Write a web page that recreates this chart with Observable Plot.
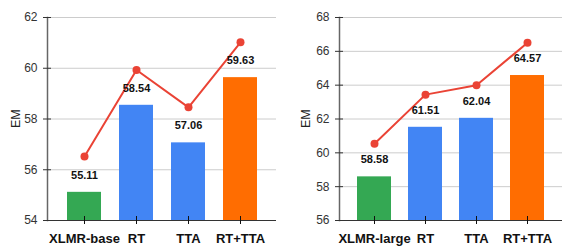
<!DOCTYPE html>
<html>
<head>
<meta charset="utf-8">
<script src="https://cdn.jsdelivr.net/npm/d3@7"></script>
<script src="https://cdn.jsdelivr.net/npm/@observablehq/plot@0.6"></script>
<style>
  html, body { margin: 0; padding: 0; background: #fff; }
  #wrap { display: flex; width: 563px; height: 246px; }
  svg { display: block; }
</style>
</head>
<body>
<div id="wrap"></div>
<script>
const categoriesBase = ["XLMR-base", "RT", "TTA", "RT+TTA"];
const emBase = [55.11, 58.54, 57.06, 59.63];
const lineBase = [56.52, 59.93, 58.46, 61.02];
const yTicksBase = [54, 56, 58, 60, 62];

const categoriesLarge = ["XLMR-large", "RT", "TTA", "RT+TTA"];
const emLarge = [58.58, 61.51, 62.04, 64.57];
const lineLarge = [60.54, 63.44, 63.99, 66.51];
const yTicksLarge = [56, 58, 60, 62, 64, 66, 68];

const barColors = ["#34a853", "#4285f4", "#4285f4", "#ff6d01"];
const lineColor = "#ea4335";
const yLabel = "EM";

function panel(cats, bars, line, ticks, opts) {
  const rows = cats.map((c, i) => ({cat: c, v: bars[i], l: line[i], color: barColors[i]}));
  return Plot.plot({
    width: opts.width,
    height: 246,
    marginLeft: opts.marginLeft,
    marginRight: opts.marginRight,
    marginTop: 17,
    marginBottom: 26,
    style: {fontFamily: "'Liberation Sans', Arial, sans-serif", background: "#fff", overflow: "visible"},
    x: {domain: cats, paddingInner: opts.pi, paddingOuter: opts.po, label: null},
    y: {domain: [ticks[0], ticks[ticks.length - 1]], label: null},
    marks: [
      Plot.gridY(ticks, {stroke: "#cccccc", strokeOpacity: 1}),
      Plot.barY(rows, {x: "cat", y1: ticks[0], y2: "v", fill: "color"}),
      Plot.ruleY([ticks[0]], {stroke: "#333"}),
      Plot.frame({anchor: "left", stroke: "#666", strokeWidth: 1.5}),
      Plot.axisY({ticks, tickSize: 8, dx: 4, tickPadding: 6, fontSize: 12, color: "#333", label: null}),
      Plot.text([yLabel], {frameAnchor: "left", rotate: -90, dx: opts.labelDx, dy: 9, fontSize: 12.5, fill: "#222"}),
      Plot.axisX({tickSize: 8, dy: -4, tickPadding: 9, fontSize: 13, fontWeight: "bold", color: "#111", label: null}),
      Plot.line(rows, {x: "cat", y: "l", stroke: lineColor, strokeWidth: 2}),
      Plot.dot(rows, {x: "cat", y: "l", r: 4, fill: lineColor}),
      Plot.text(rows, {x: "cat", y: "v", text: d => d.v.toFixed(2), dy: -17, fontSize: 11, fontWeight: "bold", fill: "#111"})
    ]
  });
}

const wrap = document.getElementById("wrap");
wrap.append(panel(categoriesBase, emBase, lineBase, yTicksBase,
  {width: 282, marginLeft: 47, marginRight: 6, pi: 0.35, po: 0.36, labelDx: -32}));
wrap.append(panel(categoriesLarge, emLarge, lineLarge, yTicksLarge,
  {width: 281, marginLeft: 57, marginRight: 1, pi: 0.34, po: 0.335, labelDx: -34}));
</script>
</body>
</html>
